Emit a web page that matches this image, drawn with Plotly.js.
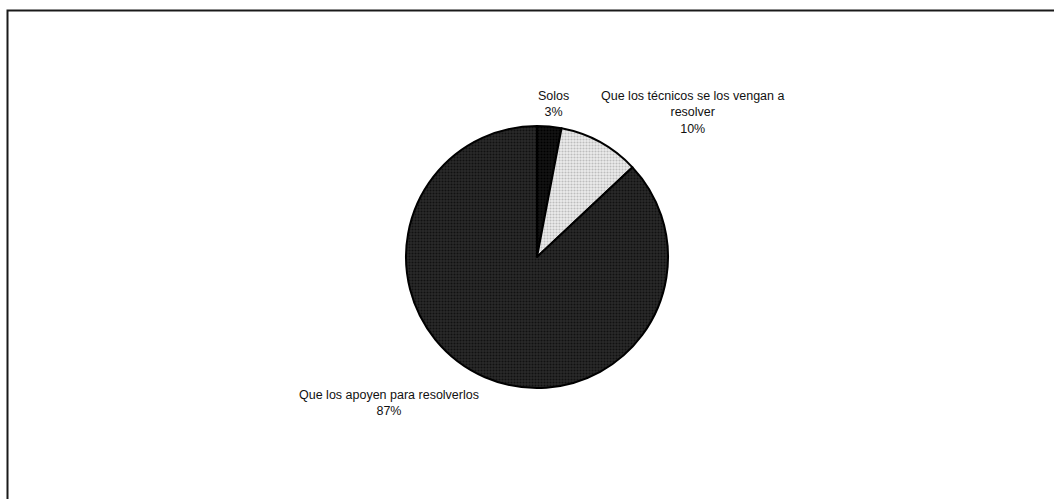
<!DOCTYPE html>
<html>
<head>
<meta charset="utf-8">
<script src="https://cdn.plot.ly/plotly-3.0.1.min.js"></script>
<style>
html,body{margin:0;padding:0;background:#fff;}
#chart{width:1054px;height:499px;}
</style>
</head>
<body>
<div id="chart"></div>
<script>
const labels = ["Solos", "Que los técnicos se los vengan a<br>resolver", "Que los apoyen para resolverlos"];
const values = [3, 10, 87];
const sliceColors = ["#141414", "#ececec", "#2a2a2a"];
const dotColors = ["#000000", "#bdbdbd", "#111111"];

const W = 1054, H = 499;
const labelPos = [
  {x: 553, y: 104},
  {x: 692, y: 112},
  {x: 389, y: 403}
];

const total = values.reduce((a, b) => a + b, 0);
const annotations = labels.map((l, i) => ({
  text: l + "<br>" + Math.round(values[i] / total * 100) + "%",
  x: labelPos[i].x / W,
  y: 1 - labelPos[i].y / H,
  xref: "paper", yref: "paper",
  xanchor: "center", yanchor: "middle",
  showarrow: false,
  align: "center",
  font: {family: "Liberation Sans, Arial, sans-serif", size: 12.5, color: "#111"}
}));

const cx = 537 / W, cy = 1 - 257 / H, r = 131;
const trace = {
  type: "pie",
  labels: labels,
  values: values,
  sort: false,
  direction: "clockwise",
  rotation: 0,
  textinfo: "none",
  hoverinfo: "label+percent",
  marker: {
    colors: sliceColors,
    line: {color: "#000", width: 2},
    pattern: {shape: ".", fgcolor: dotColors, bgcolor: sliceColors, size: 3, solidity: 0.4}
  },
  domain: {x: [cx - 0.2, cx + 0.2], y: [cy - r / H, cy + r / H]},
  showlegend: false
};

const layout = {
  width: W, height: H,
  margin: {l: 0, r: 0, t: 0, b: 0},
  paper_bgcolor: "#fff",
  showlegend: false,
  annotations: annotations,
  shapes: [{
    type: "rect", xref: "paper", yref: "paper",
    x0: 7.5 / W, x1: 1.02, y0: -0.02, y1: 1 - 10.5 / H,
    line: {color: "#1a1a1a", width: 2}
  }]
};

Plotly.newPlot("chart", [trace], layout, {displayModeBar: false, staticPlot: true});
</script>
</body>
</html>
